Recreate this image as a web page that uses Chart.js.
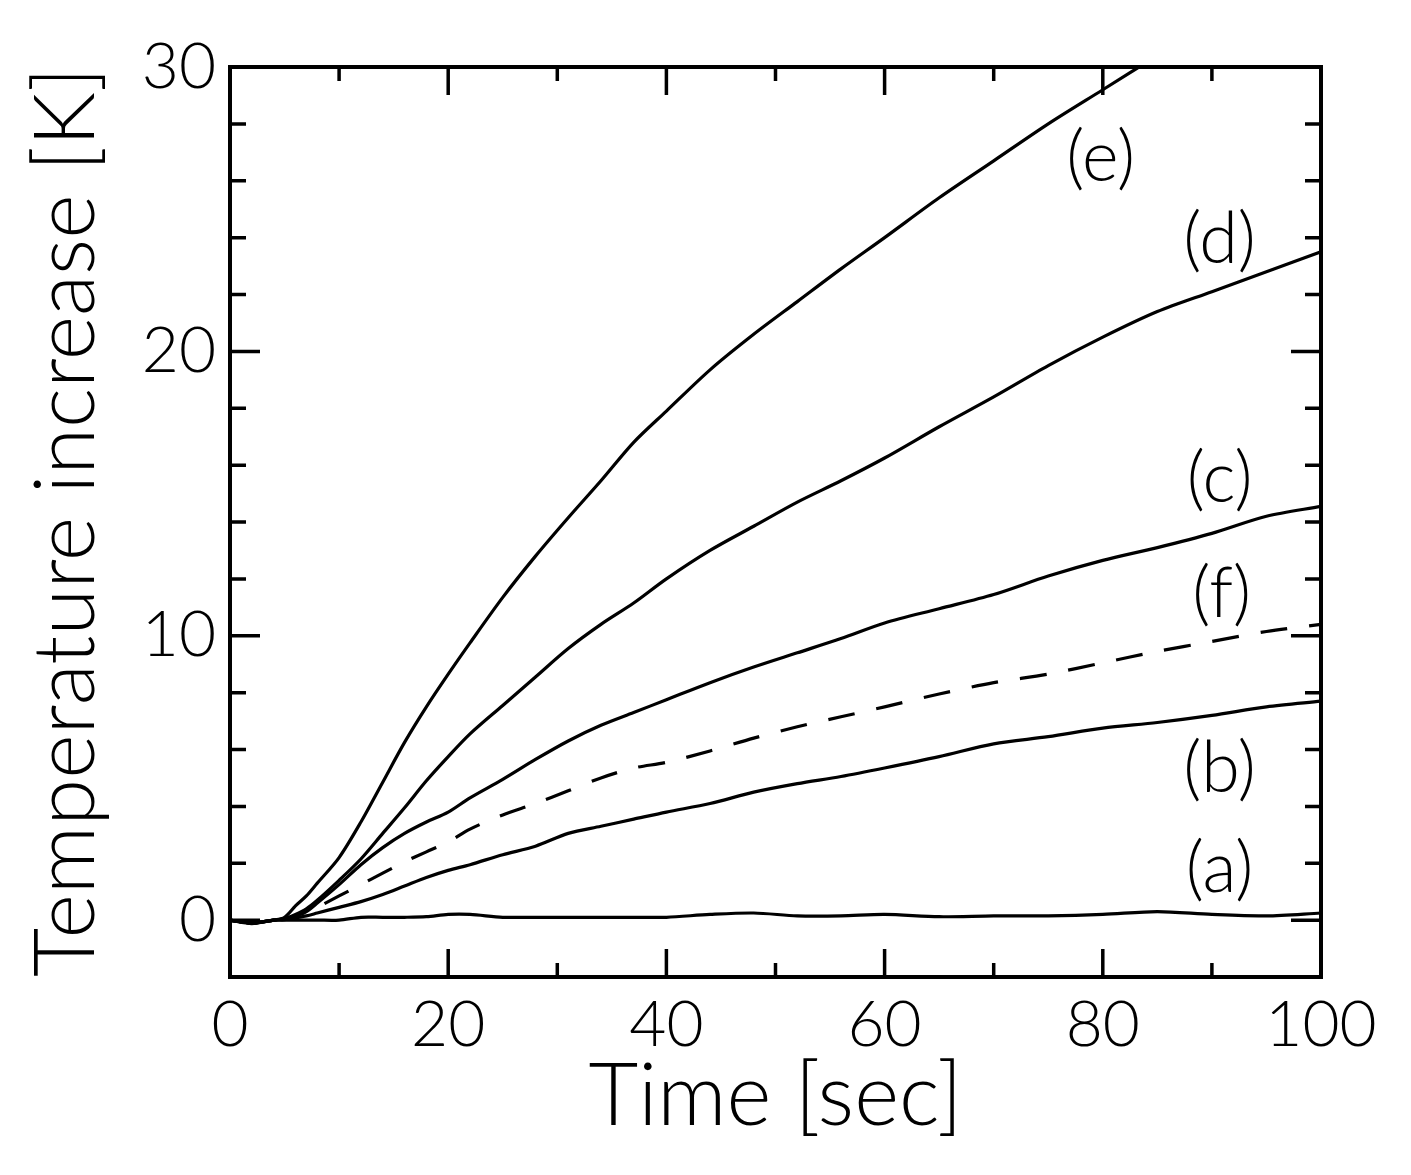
<!DOCTYPE html>
<html>
<head>
<meta charset="utf-8">
<script src="https://cdn.jsdelivr.net/npm/chart.js@4.4.1/dist/chart.umd.min.js"></script>
<style>
  html, body { margin: 0; padding: 0; background: #fff; }
  #wrap { width: 1411px; height: 1175px; }
</style>
</head>
<body>
<div id="wrap"><canvas id="temp-chart"></canvas></div>
<script>
// time axis [sec]
const timeSec = [0, 2, 4, 5, 6, 7, 8, 10, 12, 14, 16, 18, 20, 22, 25, 28, 31, 34, 37, 40,
    44, 48, 52, 56, 60, 65, 70, 75, 80, 85, 90, 95, 100];

// temperature increase [K]
const curveA = [0, -0.12, 0, 0, 0, 0, 0, 0, 0.1, 0.1, 0.1, 0.12, 0.2, 0.2, 0.1, 0.1, 0.1, 0.1, 0.1, 0.1,
    0.2, 0.25, 0.15, 0.15, 0.2, 0.12, 0.15, 0.15, 0.2, 0.3, 0.2, 0.15, 0.25];
const curveB = [0, -0.1, 0, 0.02, 0.08, 0.15, 0.25, 0.45, 0.65, 0.9, 1.2, 1.5, 1.75, 1.95, 2.3, 2.6, 3.05, 3.3, 3.55, 3.8,
    4.1, 4.5, 4.8, 5.05, 5.35, 5.75, 6.2, 6.45, 6.75, 6.95, 7.2, 7.5, 7.7];
const curveC = [0, -0.1, 0, 0.05, 0.15, 0.3, 0.6, 1.25, 1.95, 2.55, 3.05, 3.45, 3.8, 4.3, 4.95, 5.65, 6.3, 6.85, 7.3, 7.75,
    8.35, 8.9, 9.4, 9.9, 10.45, 10.95, 11.45, 12.1, 12.65, 13.1, 13.6, 14.2, 14.55];
const curveD = [0, -0.1, 0, 0.05, 0.2, 0.4, 0.7, 1.4, 2.15, 3.05, 3.95, 4.9, 5.75, 6.55, 7.55, 8.55, 9.55, 10.4, 11.15, 12.0,
    13.0, 13.85, 14.7, 15.45, 16.25, 17.35, 18.4, 19.5, 20.5, 21.4, 22.1, 22.8, 23.5];
const curveE = [0, -0.1, 0, 0.1, 0.5, 0.85, 1.3, 2.2, 3.45, 4.85, 6.25, 7.5, 8.65, 9.75, 11.35, 12.8, 14.15, 15.45, 16.8, 17.9,
    19.35, 20.6, 21.75, 22.9, 24.0, 25.4, 26.7, 28.0, 29.2, 30.4, null, null, null];
const curveF = [0, -0.1, 0, 0.05, 0.15, 0.3, 0.45, 0.85, 1.25, 1.65, 2.05, 2.4, 2.75, 3.2, 3.7, 4.1, 4.55, 5.0, 5.35, 5.55,
    5.95, 6.4, 6.8, 7.15, 7.5, 7.95, 8.35, 8.65, 9.05, 9.45, 9.8, 10.15, 10.4];

const seriesNames = ["(a)", "(b)", "(c)", "(d)", "(e)", "(f)"];
// where each curve name sits, in data units
const labelTime = [90.7, 90.7, 90.7, 90.7, 79.8, 90.9];
const labelTemp = [1.8, 5.3, 15.5, 23.9, 26.8, 11.45];

const xTickLabels = [0, 20, 40, 60, 80, 100];
const yTickLabels = [0, 10, 20, 30];

const FONT = "Lato";

function toPoints(values) {
    return timeSec.map((t, i) => ({ x: t, y: values[i] }));
}

const allCurves = [curveA, curveB, curveC, curveD, curveE, curveF];

const tempDatasets = allCurves.map((vals, i) => ({
    label: seriesNames[i],
    data: toPoints(vals),
    borderColor: '#000',
    borderWidth: 3.2,
    borderDash: i === 5 ? [27, 22] : [],
    pointRadius: 0,
    tension: 0.3,
    fill: false
}));

// frame + inward ticks on all four sides
const framePlugin = {
    id: 'frame',
    afterDraw(chart) {
        const ctx = chart.ctx;
        const a = chart.chartArea;
        const xs = chart.scales.x;
        const ys = chart.scales.y;
        ctx.save();
        ctx.strokeStyle = '#000';
        ctx.lineWidth = 3.5;
        for (let v = 10; v < 100; v += 10) {
            const px = xs.getPixelForValue(v);
            const len = v % 20 === 0 ? 28 : 14;
            ctx.beginPath();
            ctx.moveTo(px, a.bottom); ctx.lineTo(px, a.bottom - len);
            ctx.moveTo(px, a.top); ctx.lineTo(px, a.top + len);
            ctx.stroke();
        }
        for (let v = 0; v < 30; v += 2) {
            const py = ys.getPixelForValue(v);
            const len = v % 10 === 0 ? 30 : 16;
            ctx.beginPath();
            ctx.moveTo(a.left, py); ctx.lineTo(a.left + len, py);
            ctx.moveTo(a.right, py); ctx.lineTo(a.right - len, py);
            ctx.stroke();
        }
        ctx.lineWidth = 4;
        ctx.strokeRect(a.left, a.top, a.right - a.left, a.bottom - a.top);
        ctx.restore();
    }
};

const namePlugin = {
    id: 'curveNames',
    afterDatasetsDraw(chart) {
        const ctx = chart.ctx;
        const xs = chart.scales.x;
        const ys = chart.scales.y;
        ctx.save();
        ctx.fillStyle = '#000';
        ctx.font = '300 70px ' + FONT;
        ctx.textAlign = 'center';
        ctx.textBaseline = 'middle';
        seriesNames.forEach((name, i) => {
            ctx.fillText(name, xs.getPixelForValue(labelTime[i]), ys.getPixelForValue(labelTemp[i]));
        });
        ctx.restore();
    }
};

function drawChart() {
    const tempCanvas = document.getElementById("temp-chart").getContext("2d");
    new Chart(tempCanvas, {
        type: 'line',
        data: { datasets: tempDatasets },
        options: {
            responsive: true,
            maintainAspectRatio: false,
            animation: false,
            layout: { padding: { top: 67, right: 90, left: 0, bottom: 0 } },
            plugins: {
                legend: { display: false },
                tooltip: { enabled: false }
            },
            scales: {
                x: {
                    type: 'linear',
                    min: 0,
                    max: 100,
                    afterBuildTicks: s => { s.ticks = xTickLabels.map(v => ({ value: v })); },
                    afterFit: s => { s.height = 198; },
                    grid: { display: false, drawTicks: false },
                    border: { display: false },
                    ticks: {
                        color: '#000',
                        padding: 10,
                        maxRotation: 0,
                        font: { family: FONT, size: 64, weight: 300 }
                    },
                    title: {
                        display: true,
                        text: 'Time [sec]',
                        color: '#000',
                        padding: { top: 0, bottom: 26 },
                        font: { family: FONT, size: 86, weight: 300 }
                    }
                },
                y: {
                    type: 'linear',
                    min: -2,
                    max: 30,
                    afterBuildTicks: s => { s.ticks = yTickLabels.map(v => ({ value: v })); },
                    afterFit: s => { s.width = 230; },
                    grid: { display: false, drawTicks: false },
                    border: { display: false },
                    ticks: {
                        color: '#000',
                        padding: 14,
                        font: { family: FONT, size: 64, weight: 300 }
                    },
                    title: {
                        display: true,
                        text: 'Temperature increase [K]',
                        color: '#000',
                        padding: { top: 16, bottom: 0 },
                        font: { family: FONT, size: 85, weight: 300 }
                    }
                }
            }
        },
        plugins: [framePlugin, namePlugin]
    });
}

document.fonts.load('300 60px ' + FONT).then(drawChart, drawChart);
</script>
</body>
</html>
